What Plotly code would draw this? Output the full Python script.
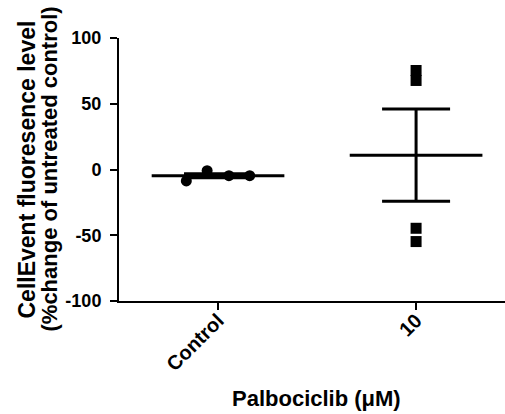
import numpy as np
import plotly.graph_objects as go

categories = ["Control", "10"]
control_values = [-8.7, -0.9, -4.7, -4.7]
palbo_values = [75.3, 67.7, -44.7, -54.8]
y_ticks = [-100, -50, 0, 50, 100]

FONT = "Liberation Sans, Arial, sans-serif"
groups = [control_values, palbo_values]
symbols = ["circle", "square"]
jitters = [[-0.16, -0.055, 0.055, 0.16], [0, 0, 0, 0]]

fig = go.Figure()
for i, vals in enumerate(groups):
    v = np.array(vals, dtype=float)
    mean = v.mean()
    sem = v.std(ddof=1) / np.sqrt(len(v))
    fig.add_trace(go.Scatter(x=[i - 0.335, i + 0.335], y=[mean, mean], mode="lines",
                             line=dict(color="black", width=3), showlegend=False, hoverinfo="skip"))
    fig.add_trace(go.Scatter(x=[i], y=[mean], mode="markers", marker=dict(size=0.1, color="black"),
                             error_y=dict(type="data", array=[sem], visible=True, color="black",
                                          thickness=3, width=34),
                             showlegend=False, hoverinfo="skip"))
    fig.add_trace(go.Scatter(x=[i + j for j in jitters[i]], y=vals, mode="markers",
                             marker=dict(symbol=symbols[i], size=11, color="black"),
                             showlegend=False, cliponaxis=False))

fig.update_layout(
    width=505, height=414,
    margin=dict(l=119, r=0, t=38, b=113),
    plot_bgcolor="white", paper_bgcolor="white",
    font=dict(family=FONT, size=16, color="black"),
    xaxis=dict(range=[-0.5, 1.449], tickvals=[0, 1], ticktext=[f"<b>{c}</b>" for c in categories],
               tickangle=-45, ticklabelstandoff=-9,
               showline=True, linecolor="black", linewidth=2, ticks="outside", ticklen=7,
               tickwidth=2, tickcolor="black", showgrid=False, zeroline=False,
               tickfont=dict(family=FONT, size=20)),
    yaxis=dict(range=[-100, 100], tickvals=y_ticks, ticktext=[f"<b>{t}</b>" for t in y_ticks],
               ticklabelstandoff=5,
               showline=True, linecolor="black", linewidth=2,
               ticks="outside", ticklen=7, tickwidth=2, tickcolor="black", showgrid=False,
               zeroline=False, tickfont=dict(family=FONT, size=18)),
    annotations=[
        dict(text="<b>CellEvent fluoresence level</b>",
             xref="paper", yref="paper", x=(26 - 119) / 386, y=0.5, xanchor="center", yanchor="middle",
             textangle=-90, showarrow=False, font=dict(family=FONT, size=23)),
        dict(text="<b>(%change of untreated control)</b>",
             xref="paper", yref="paper", x=(49 - 119) / 386, y=0.5, xanchor="center", yanchor="middle",
             textangle=-90, showarrow=False, font=dict(family=FONT, size=22)),
        dict(text="<b>Palbociclib (μM)</b>", xref="paper", yref="paper", x=(316 - 119) / 386,
             y=(301 - 398) / 263, xanchor="center", yanchor="middle", showarrow=False,
             font=dict(family=FONT, size=22)),
    ],
)

fig.write_html("out.html")
